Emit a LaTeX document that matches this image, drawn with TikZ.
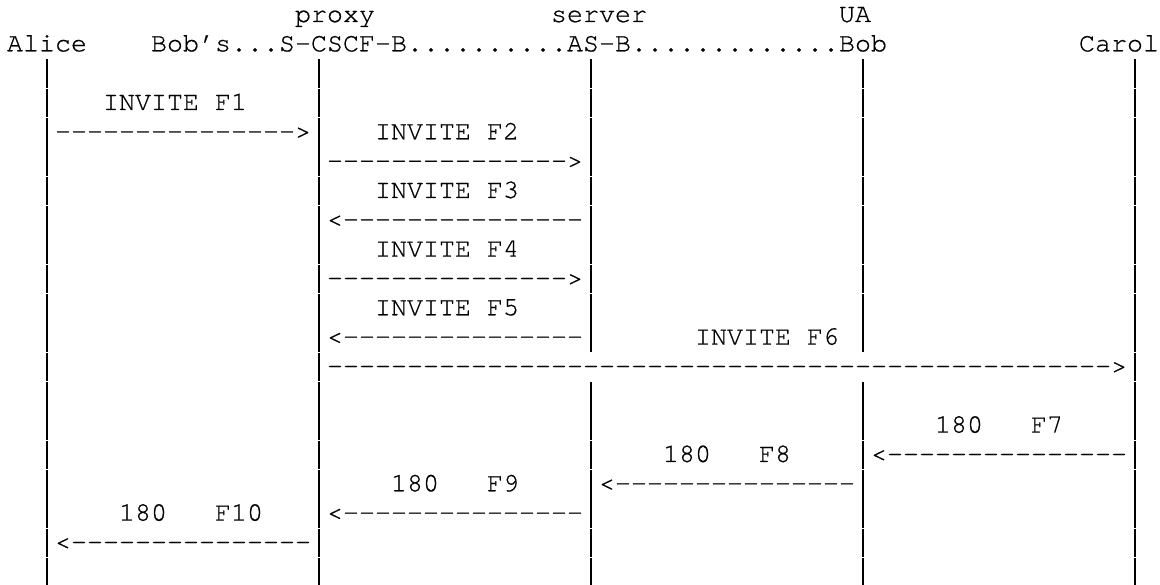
\documentclass[tikz,border=0pt]{standalone}
\usepackage{fontspec}
\setmonofont[FakeBold=0.6]{TeX Gyre Cursor}
\tikzset{
  mono/.style={anchor=base west, inner sep=0pt, outer sep=0pt,
    font=\ttfamily\fontsize{26.67pt}{29.33pt}\selectfont},
  life/.style={line width=1.4pt, dash pattern=on 28.6pt off 0.73pt}
}
% #1 name, #2 column, #3 row, #4 text
\newcommand\msgtxt[4]{\node[mono] (#1) at ({7+16*#2},{22+29.33*#3}) {#4};}
\begin{document}
\begin{tikzpicture}[x=1pt,y=-1pt]
\path[fill=white] (0,0) rectangle (1160,585);
\useasboundingbox (0,0) rectangle (1160,585);
% headers
\msgtxt{lProxy}{18}{0}{proxy}
\msgtxt{lServer}{34}{0}{server}
\msgtxt{lUA}{52}{0}{UA}
\msgtxt{hAlice}{0}{1}{Alice}
\msgtxt{hScscf}{9}{1}{Bob’s...S-CSCF-B}
\msgtxt{dotsA}{25}{1}{..........}
\msgtxt{hAS}{35}{1}{AS-B}
\msgtxt{dotsB}{39}{1}{.............}
\msgtxt{hBob}{52}{1}{Bob}
\msgtxt{hCarol}{67}{1}{Carol}
% lifeline end points
\coordinate (aT) at (47,59.4);   \coordinate (aB) at (47,585);
\coordinate (sT) at (319,59.4);  \coordinate (sB) at (319,585);
\coordinate (asT) at (591,59.4); \coordinate (asM) at (591,352.6);
\coordinate (asN) at (591,382);  \coordinate (asB) at (591,585);
\coordinate (bT) at (863,59.4);  \coordinate (bM) at (863,352.6);
\coordinate (bN) at (863,382);   \coordinate (bB) at (863,585);
\coordinate (cT) at (1135,59.4); \coordinate (cB) at (1135,585);
\draw[life] (aT) -- (aB);
\draw[life] (sT) -- (sB);
\draw[life] (asT) -- (asM);
\draw[life] (asN) -- (asB);
\draw[life] (bT) -- (bM);
\draw[life] (bN) -- (bB);
\draw[life] (cT) -- (cB);
% messages
\msgtxt{t1}{6}{3}{INVITE F1}
\msgtxt{f1}{3}{4}{--------------->}
\msgtxt{t2}{23}{4}{INVITE F2}
\msgtxt{f2}{20}{5}{--------------->}
\msgtxt{t3}{23}{6}{INVITE F3}
\msgtxt{f3}{20}{7}{<---------------}
\msgtxt{t4}{23}{8}{INVITE F4}
\msgtxt{f4}{20}{9}{--------------->}
\msgtxt{t5}{23}{10}{INVITE F5}
\msgtxt{f5}{20}{11}{<---------------}
\msgtxt{t6}{43}{11}{INVITE F6}
\msgtxt{f6}{20}{12}{------------------------------------------------->}
\msgtxt{t7}{58}{14}{180\ \ \ F7}
\msgtxt{f7}{54}{15}{<---------------}
\msgtxt{t8}{41}{15}{180\ \ \ F8}
\msgtxt{f8}{37}{16}{<---------------}
\msgtxt{t9}{24}{16}{180\ \ \ F9}
\msgtxt{f9}{20}{17}{<---------------}
\msgtxt{t10}{7}{17}{180\ \ \ F10}
\msgtxt{f10}{3}{18}{<---------------}
\end{tikzpicture}
\end{document}
